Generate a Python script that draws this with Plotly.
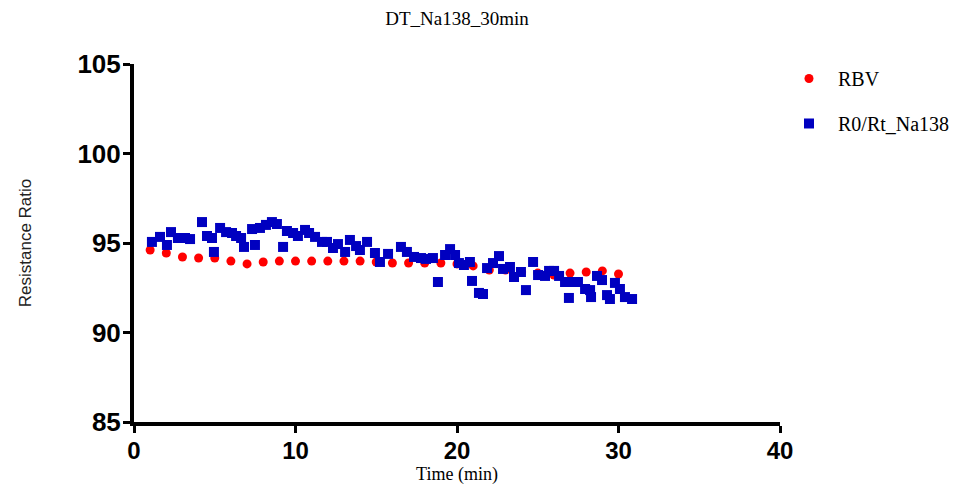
import plotly.graph_objects as go

title_text = "DT_Na138_30min"

rbv_time = list(range(1, 31))
rbv_values = [94.61, 94.44, 94.22, 94.16, 94.16, 93.99, 93.83, 93.94, 93.99, 93.99,
              93.99, 93.99, 93.99, 93.99, 93.94, 93.88, 93.88, 93.88, 93.88, 93.83,
              93.72, 93.49, 93.49, 93.38, 93.32, 93.21, 93.32, 93.38, 93.44, 93.27]

na_time = [1.11, 1.61, 2.04, 2.29, 2.72, 3.16, 3.47, 4.21, 4.52, 4.83,
           4.95, 5.33, 5.70, 6.07, 6.32, 6.63, 6.81, 7.31, 7.49, 7.80,
           8.17, 8.54, 8.85, 9.23, 9.47, 9.85, 10.15, 10.59, 10.84, 11.21,
           11.64, 11.95, 12.32, 12.63, 13.07, 13.37, 13.75, 13.99, 14.43, 14.92,
           15.23, 15.73, 16.53, 16.90, 17.34, 17.77, 18.08, 18.51, 18.82, 19.26,
           19.57, 19.88, 20.12, 20.43, 20.80, 20.93, 21.36, 21.61, 21.86, 22.23,
           22.60, 22.85, 23.28, 23.53, 23.96, 24.27, 24.71, 25.02, 25.45, 25.70,
           26.01, 26.32, 26.69, 26.93, 27.12, 27.49, 27.93, 28.24, 28.30, 28.67,
           28.98, 29.29, 29.47, 29.78, 30.09, 30.40, 30.84]
na_values = [95.06, 95.34, 94.89, 95.61, 95.28, 95.28, 95.22, 96.17, 95.39, 95.28,
             94.50, 95.84, 95.61, 95.56, 95.39, 95.28, 94.78, 95.78, 94.89, 95.84,
             96.01, 96.17, 96.06, 94.78, 95.67, 95.56, 95.39, 95.73, 95.56, 95.34,
             95.06, 95.06, 94.72, 94.94, 94.50, 95.17, 94.83, 94.61, 95.06, 94.44,
             93.94, 94.39, 94.78, 94.50, 94.22, 94.16, 94.11, 94.16, 92.82, 94.33,
             94.66, 94.33, 93.88, 93.77, 93.94, 92.88, 92.21, 92.15, 93.60, 93.88,
             94.27, 93.55, 93.66, 93.10, 93.38, 92.37, 93.94, 93.21, 93.16, 93.44,
             93.44, 93.16, 92.82, 91.93, 92.82, 92.82, 92.43, 92.37, 91.98, 93.16,
             92.93, 92.09, 91.87, 92.77, 92.43, 91.98, 91.87]

x_ticks = [0, 10, 20, 30, 40]
y_ticks = [85, 90, 95, 100, 105]

fig = go.Figure()
fig.add_trace(go.Scatter(
    x=rbv_time, y=rbv_values, mode="markers", name="RBV", legendgroup="a",
    marker=dict(symbol="circle", size=9, color="#ff0000", line=dict(width=0)),
))
fig.add_trace(go.Scatter(
    x=na_time, y=na_values, mode="markers", name="R0/Rt_Na138", legendgroup="b",
    marker=dict(symbol="square", size=10, color="#0000c0", line=dict(width=0)),
))

fig.update_layout(
    width=979, height=485,
    paper_bgcolor="white", plot_bgcolor="white",
    margin=dict(l=126, r=207, t=56, b=71),
    title=dict(text=title_text, x=449 / 979, xanchor="center",
               y=1 - 10 / 485, yanchor="middle",
               font=dict(family="Liberation Serif", size=19, color="black")),
    showlegend=True,
    legend=dict(x=1.0, y=1.014, xanchor="left", yanchor="top",
                traceorder="grouped", tracegroupgap=16, itemwidth=48,
                font=dict(family="Liberation Serif", size=20, color="black"),
                bgcolor="rgba(0,0,0,0)"),
)

fig.update_xaxes(
    range=[0, 40], tickvals=x_ticks, ticktext=[str(v) for v in x_ticks],
    showline=True, linecolor="black", linewidth=4, mirror=False,
    ticks="outside", ticklen=7, tickwidth=3, tickcolor="black",
    ticklabelstandoff=-3,
    showgrid=False, zeroline=False, automargin=False,
    tickfont=dict(family="Liberation Sans", size=24, color="black", weight="bold"),
    title=dict(text="Time (min)", standoff=4,
               font=dict(family="Liberation Serif", size=18, color="black")),
)
fig.update_yaxes(
    range=[85, 105], tickvals=y_ticks, ticktext=[str(v) for v in y_ticks],
    showline=True, linecolor="black", linewidth=4, mirror=False,
    ticks="outside", ticklen=7, tickwidth=3, tickcolor="black",
    ticklabelstandoff=-3,
    showgrid=False, zeroline=False, automargin=False,
    tickfont=dict(family="Liberation Sans", size=26, color="black", weight="bold"),
    title=dict(text="Resistance Ratio", standoff=42,
               font=dict(family="Liberation Sans", size=17, color="#222222")),
)

fig.write_html("out.html")
